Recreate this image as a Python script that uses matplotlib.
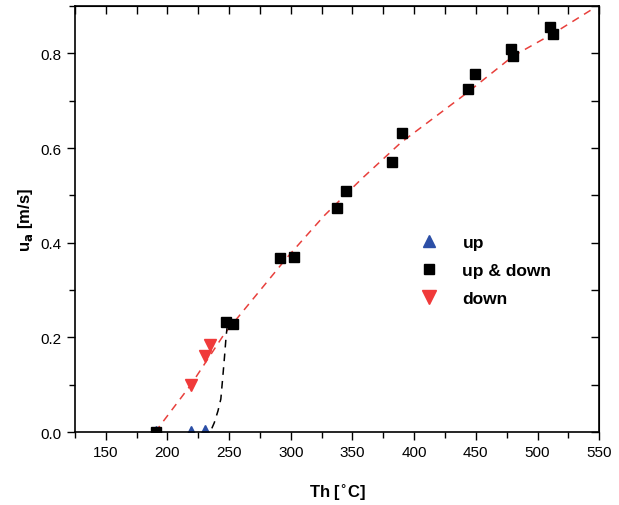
import matplotlib
matplotlib.use("Agg")
import matplotlib.pyplot as plt
from matplotlib.ticker import MultipleLocator

plt.rcParams["font.family"] = ["Liberation Sans", "DejaVu Sans"]
plt.rcParams["mathtext.default"] = "bf"

# measured points
both_t = [191, 247.8, 252.9, 291.0, 302.9, 337.8, 344.9, 382.1, 390.1, 443.9, 449.0, 478.8, 480.1, 509.9, 512.5]
both_u = [0.0, 0.232, 0.229, 0.367, 0.370, 0.474, 0.509, 0.570, 0.632, 0.725, 0.756, 0.809, 0.795, 0.855, 0.842]
up_t = [191, 219.2, 230.1]
up_u = [0.002, 0.003, 0.005]
down_t = [219.2, 230.1, 234.3]
down_u = [0.100, 0.160, 0.185]

# guide curves
red_t = [190, 219, 246, 297, 327, 357, 389, 443, 480, 514, 546]
red_u = [0.0, 0.100, 0.207, 0.369, 0.457, 0.534, 0.611, 0.717, 0.794, 0.844, 0.896]
black_t = [236, 238, 241, 243.3, 245, 246.3, 247.5, 248.5]
black_u = [0.008, 0.02, 0.045, 0.07, 0.12, 0.16, 0.2, 0.225]

fig = plt.figure(figsize=(6.19, 5.06), dpi=100)
ax = fig.add_axes([0.121, 0.144, 0.847, 0.842])

ax.plot(red_t, red_u, ls=(0, (5, 4)), color="#e8403c", lw=1.1, zorder=1)
ax.plot(black_t, black_u, ls=(0, (5, 4)), color="black", lw=1.1, zorder=1)
ax.plot(up_t, up_u, "^", color="#2c4fa6", ms=7, ls="none", label="up", zorder=2)
ax.plot(both_t, both_u, "s", color="black", ms=6.5, ls="none", label="up & down", zorder=3)
ax.plot(down_t, down_u, "v", color="#f03a3a", ms=9, ls="none", label="down", zorder=2)

ax.set_xlim(125, 550)
ax.set_ylim(0, 0.9)
ax.xaxis.set_major_locator(MultipleLocator(50))
ax.xaxis.set_minor_locator(MultipleLocator(25))
ax.yaxis.set_major_locator(MultipleLocator(0.2))
ax.yaxis.set_minor_locator(MultipleLocator(0.1))
ax.tick_params(which="both", direction="out", labelsize=11, width=1)
ax.tick_params(which="major", length=6)
ax.tick_params(which="minor", length=4)
for s in ax.spines.values():
    s.set_linewidth(1.2)

top = ax.secondary_xaxis("top")
top.xaxis.set_major_locator(MultipleLocator(25))
top.tick_params(direction="in", length=6, width=1, labeltop=False)
right = ax.secondary_yaxis("right")
right.yaxis.set_major_locator(MultipleLocator(0.1))
right.tick_params(direction="in", length=6, width=1, labelright=False)

ax.set_xlabel("Th [$^{\\circ}$C]", fontsize=12, fontweight="bold", labelpad=16)
ax.set_ylabel("u$_a$ [m/s]", fontsize=12, fontweight="bold", labelpad=4)

ax.legend(loc="upper left", bbox_to_anchor=(0.62, 0.5), frameon=False,
          prop={"weight": "bold", "size": 12.5}, handletextpad=1.2, labelspacing=0.75,
          handlelength=1.5, markerscale=1.15)

fig.savefig("out.png", dpi=100)
